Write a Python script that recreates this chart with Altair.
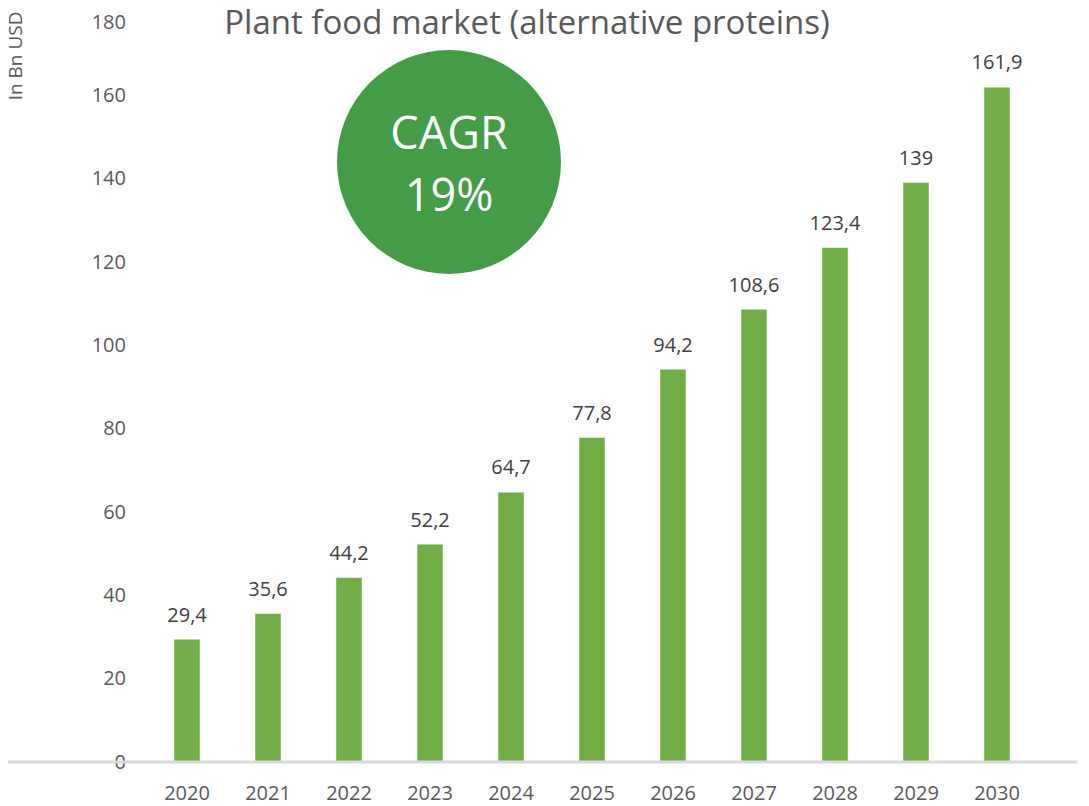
import altair as alt
import pandas as pd

years = ["2020", "2021", "2022", "2023", "2024", "2025", "2026", "2027", "2028", "2029", "2030"]
values = [29.4, 35.6, 44.2, 52.2, 64.7, 77.8, 94.2, 108.6, 123.4, 139, 161.9]
labels = [f"{v:g}".replace(".", ",") for v in values]

df = pd.DataFrame({"year": years, "value": values, "label": labels})

FONT = "Open Sans"
PT = 4
W, H = 891, 750

x_enc = alt.X("year:N", title=None, sort=years,
              scale=alt.Scale(paddingInner=0.685, paddingOuter=0.3425),
              axis=alt.Axis(domain=False, ticks=False, labelAngle=0, labelFontSize=20,
                            labelColor="#595959", labelFont=FONT, labelPadding=21))
y_enc = alt.Y("value:Q", scale=alt.Scale(domain=[0, 180], nice=False),
              axis=alt.Axis(values=list(range(0, 181, 20)), domain=False, ticks=False, grid=False,
                            labelFontSize=20, labelColor="#595959", labelFont=FONT, labelPadding=21,
                            labelBaseline={"condition": {"test": "datum.value == 180", "value": "top"},
                                           "value": "middle"},
                            title="In Bn USD", titleFont=FONT, titleFontSize=19, titleFontWeight="normal",
                            titleColor="#595959", titleAngle=-90, titleX=-131, titleY=-1,
                            titleAlign="right", titleBaseline="middle"))

base = alt.Chart(df)

bars = base.mark_bar(color="#70AD47").encode(x=x_enc, y=y_enc)
text = base.mark_text(dy=-24, fontSize=20, font=FONT, color="#404040", baseline="middle").encode(
    x=alt.X("year:N", sort=years), y="value:Q", text="label:N")

axis_line = alt.Chart(pd.DataFrame({"a": [0]})).mark_rule(color="#d9d9d9", strokeWidth=3).encode(
    x=alt.value(-140), x2=alt.value(W + 40), y=alt.value(H))

title = alt.Chart(pd.DataFrame({"t": ["Plant food market (alternative proteins)"]})).mark_text(
    fontSize=33, font=FONT, color="#595959", align="center", baseline="alphabetic").encode(
    x=alt.value(380.5), y=alt.value(22), text="t:N")

circle = alt.Chart(pd.DataFrame({"a": [0]})).mark_point(
    shape="circle", filled=True, opacity=1, color="#449C47", size=224 * 224).encode(
    x=alt.value(302.5), y=alt.value(154 - PT))

cagr = alt.Chart(pd.DataFrame({"t": ["CAGR", "19%"], "yy": [127 - PT, 189 - PT]})).mark_text(
    fontSize=45, font=FONT, color="white", align="center", baseline="middle").encode(
    x=alt.value(302.5), y=alt.Y("yy:Q", scale=None), text="t:N")

chart = alt.layer(bars, text, axis_line, title, circle, cagr).properties(
    width=W, height=H,
    autosize=alt.AutoSizeParams(type="none"),
    padding={"left": 138.5, "top": PT, "right": 40, "bottom": 44},
).configure_view(stroke=None)

chart.save("out.html", embed_options={"renderer": "svg", "actions": False})
